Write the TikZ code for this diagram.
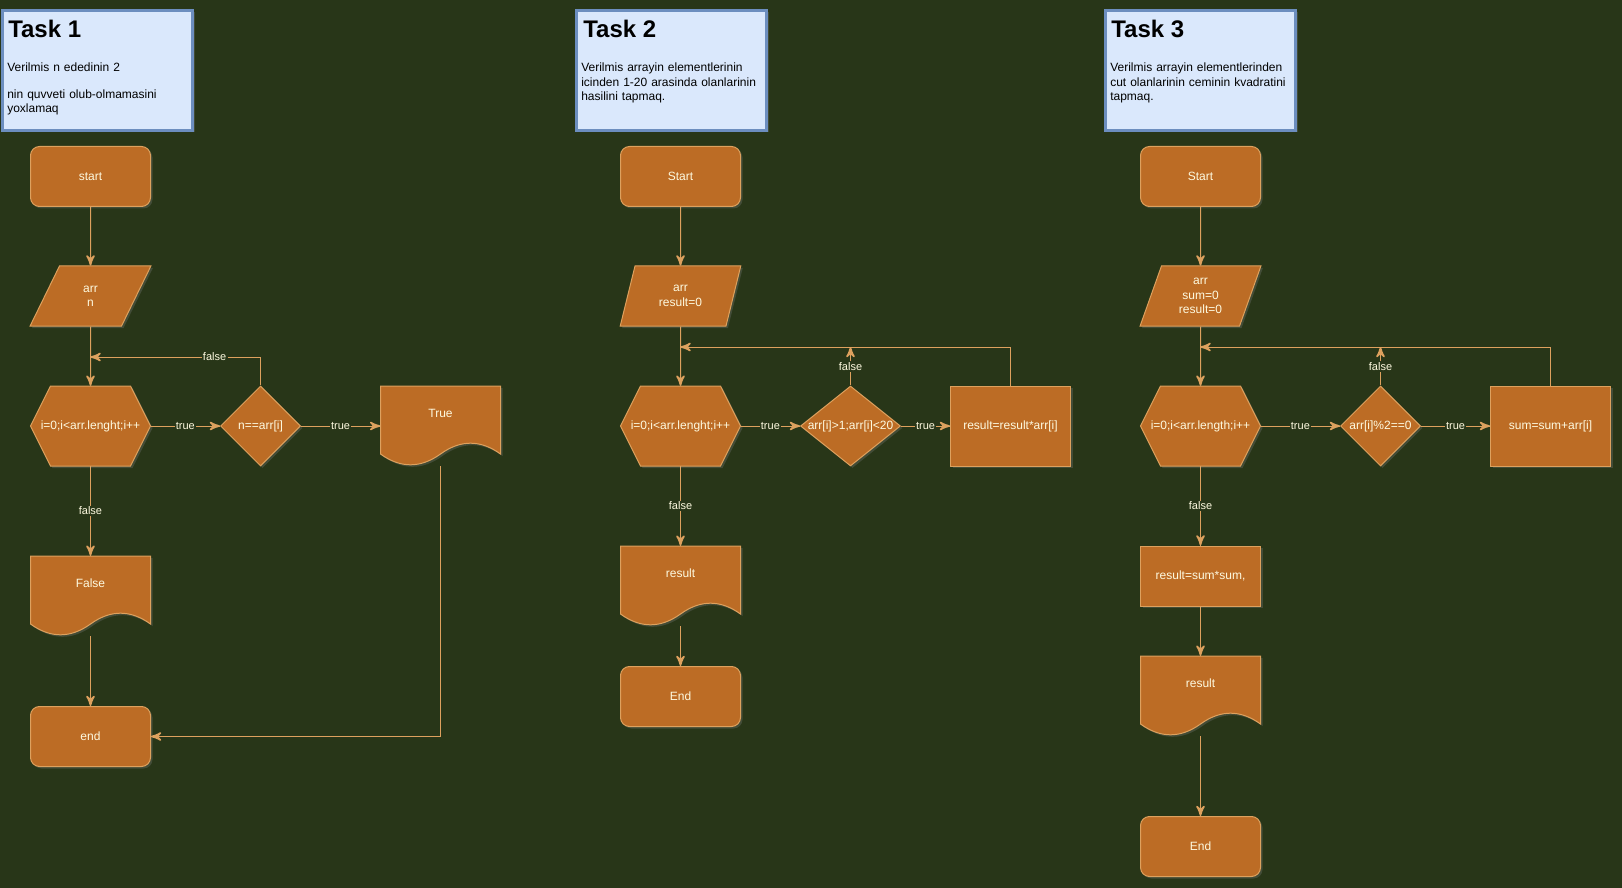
\documentclass[tikz,border=0pt]{standalone}
\usepackage{fontspec}
\setmainfont{Liberation Sans}
\usepackage{tikz}
\usetikzlibrary{arrows}
\usetikzlibrary{decorations.markings}
\usetikzlibrary{shapes.geometric}
\usetikzlibrary{shadows}
\definecolor{cbg}{HTML}{283618}
\definecolor{cfill}{HTML}{BC6C25}
\definecolor{cline}{HTML}{DDA15E}
\definecolor{cink}{HTML}{FEFAE0}
\definecolor{cnote}{HTML}{DAE8FC}
\definecolor{cnoteline}{HTML}{6C8EBF}
\tikzset{flow/.style = {color=cline, line width=0.75pt,
                        decoration={markings,
                                    mark=at position 1 with {\arrow[scale=1.6]{stealth'}}},
                        postaction={decorate}}}
\tikzset{softshadow/.style = {drop shadow={shadow xshift=1.5pt, shadow yshift=-1.5pt, opacity=0.3}}}
\tikzset{block/.style = {draw=cline, fill=cfill, text=cink, line width=0.75pt, inner sep=0pt,
                         align=center, font=\fontsize{9}{10.8}\selectfont, softshadow}}
\tikzset{term/.style = {block, rectangle, rounded corners=6.75pt, minimum width=90pt, minimum height=45pt}}
\tikzset{io/.style = {block, trapezium, trapezium left angle=71.57, trapezium right angle=108.43,
                      trapezium stretches=true, minimum width=90.75pt, minimum height=45pt}}
\tikzset{cond/.style = {block, diamond, minimum width=60pt, minimum height=60pt}}
\tikzset{act/.style = {block, rectangle, minimum width=90pt, minimum height=60pt}}
\tikzset{ctext/.style = {text=cink, inner sep=0pt, align=center, font=\fontsize{9}{10.8}\selectfont}}
\tikzset{doc/.style = {rectangle, minimum width=90pt, minimum height=60pt, inner sep=0pt}}
\tikzset{forbox/.style = {doc, ctext}}
\tikzset{outline/.style = {draw=cline, fill=cfill, line width=0.75pt, softshadow}}
\tikzset{elabel/.style = {fill=cbg, text=cink, inner sep=1pt, font=\fontsize{8.25}{9.9}\selectfont}}
\tikzset{taskbox/.style = {draw=cnoteline, fill=cnote, line width=2.25pt,
                           minimum width=142.5pt, minimum height=90pt, softshadow}}
\tikzset{headtext/.style = {anchor=base west, inner sep=0pt, font=\fontsize{18}{21.6}\selectfont\bfseries}}
\tikzset{desctext/.style = {anchor=base west, inner sep=0pt, text width=140pt, align=left,
                            font=\fontsize{9}{10.8}\selectfont}}
\newcommand{\docshape}[3]{%
  \filldraw [outline, shift={(#2)}] (-60,-40) -- (60,-40) -- (60,28)
    .. controls (40,13.6) and (20,13.6) .. (0,28)
    .. controls (-20,42.4) and (-40,42.4) .. (-60,28) -- cycle;
  \node [doc, label={[ctext, yshift=9.75pt]center:{#3}}] (#1) at (#2) {};}
\newcommand{\forshape}[3]{%
  \filldraw [outline, shift={(#2)}] (-60,0) -- (-40,-40) -- (40,-40) -- (60,0)
    -- (40,40) -- (-40,40) -- cycle;
  \node [forbox] (#1) at (#2) {#3};}

\begin{document}
\begin{tikzpicture}[x=0.75pt, y=-0.75pt]
    \useasboundingbox (0,0) rectangle (1622,888);
    \fill [cbg] (0,0) rectangle (1622,888);

    % task 1
    \node [taskbox] (note1) at (97.5,70.5) {};
    \node [headtext] (head1) at (8,38) {Task 1};
    \node [desctext] (desc1) at (7,72) {Verilmis n ededinin 2\\[9pt] nin quvveti olub-olmamasini\\ yoxlamaq};
    \node [term] (start1) at (90.5,176.5) {start};
    \node [io] (in1) at (90.5,296) {arr\\n};
    \forshape{for1}{90.5,426}{i=0;i<arr.lenght;i++}
    \node [cond, label={[ctext]center:{n==arr[i]}}] (if1) at (260.5,426) {};
    \docshape{true1}{440.5,426}{True}
    \docshape{false1}{90.5,596}{False}
    \node [term] (end1) at (90.5,736.5) {end};
    \coordinate (back1) at (90.5,357);
    \draw [flow] (start1) -- (in1);
    \draw [flow] (in1) -- (for1);
    \draw [flow] (for1) -- node [elabel] (t1a) {true} (if1);
    \draw [flow] (if1) -- node [elabel] (t1b) {true} (true1);
    \draw [flow] (if1) |- node [elabel, pos=0.635] (f1a) {false} (back1);
    \draw [flow] (for1) -- node [elabel] (f1b) {false} (false1);
    \draw [flow] (false1) -- (end1);
    \draw [flow] (true1) |- (end1);

    % task 2
    \node [taskbox] (note2) at (671.5,70.5) {};
    \node [headtext] (head2) at (583,38) {Task 2};
    \node [desctext] (desc2) at (581,72) {Verilmis arrayin elementlerinin\\ icinden 1-20 arasinda olanlarinin\\ hasilini tapmaq.};
    \node [term] (start2) at (680.5,176.5) {Start};
    \node [io] (in2) at (680.5,296) {arr\\result=0};
    \forshape{for2}{680.5,426}{i=0;i<arr.lenght;i++}
    \node [cond, minimum width=75pt, label={[ctext]center:{arr[i]>1;arr[i]<20}}] (if2) at (850.5,426) {};
    \node [act] (mul2) at (1010.5,426) {result=result*arr[i]};
    \docshape{out2}{680.5,586}{result}
    \node [term] (end2) at (680.5,696.5) {End};
    \coordinate (back2) at (680.5,347);
    \draw [flow] (start2) -- (in2);
    \draw [flow] (in2) -- (for2);
    \draw [flow] (for2) -- node [elabel] (t2a) {true} (if2);
    \draw [flow] (if2) -- node [elabel] (t2b) {true} (mul2);
    \draw [flow] (if2) -- node [elabel] (f2a) {false} (if2 |- back2);
    \draw [flow] (mul2) |- (back2);
    \draw [flow] (for2) -- node [elabel] (f2b) {false} (out2);
    \draw [flow] (out2) -- (end2);

    % task 3
    \node [taskbox] (note3) at (1200.5,70.5) {};
    \node [headtext] (head3) at (1111,38) {Task 3};
    \node [desctext] (desc3) at (1110,72) {Verilmis arrayin elementlerinden\\ cut olanlarinin ceminin kvadratini\\ tapmaq.};
    \node [term] (start3) at (1200.5,176.5) {Start};
    \node [io] (in3) at (1200.5,296) {arr\\sum=0\\result=0};
    \forshape{for3}{1200.5,426}{i=0;i<arr.length;i++}
    \node [cond, label={[ctext]center:{arr[i]\%2==0}}] (if3) at (1380.5,426) {};
    \node [act] (add3) at (1550.5,426) {sum=sum+arr[i]};
    \node [act, minimum height=45pt] (calc3) at (1200.5,576) {result=sum*sum,};
    \docshape{out3}{1200.5,696}{result}
    \node [term] (end3) at (1200.5,846.5) {End};
    \coordinate (back3) at (1200.5,347);
    \draw [flow] (start3) -- (in3);
    \draw [flow] (in3) -- (for3);
    \draw [flow] (for3) -- node [elabel] (t3a) {true} (if3);
    \draw [flow] (if3) -- node [elabel] (t3b) {true} (add3);
    \draw [flow] (if3) -- node [elabel] (f3a) {false} (if3 |- back3);
    \draw [flow] (add3) |- (back3);
    \draw [flow] (for3) -- node [elabel] (f3b) {false} (calc3);
    \draw [flow] (calc3) -- (out3);
    \draw [flow] (out3) -- (end3);
\end{tikzpicture}
\end{document}
